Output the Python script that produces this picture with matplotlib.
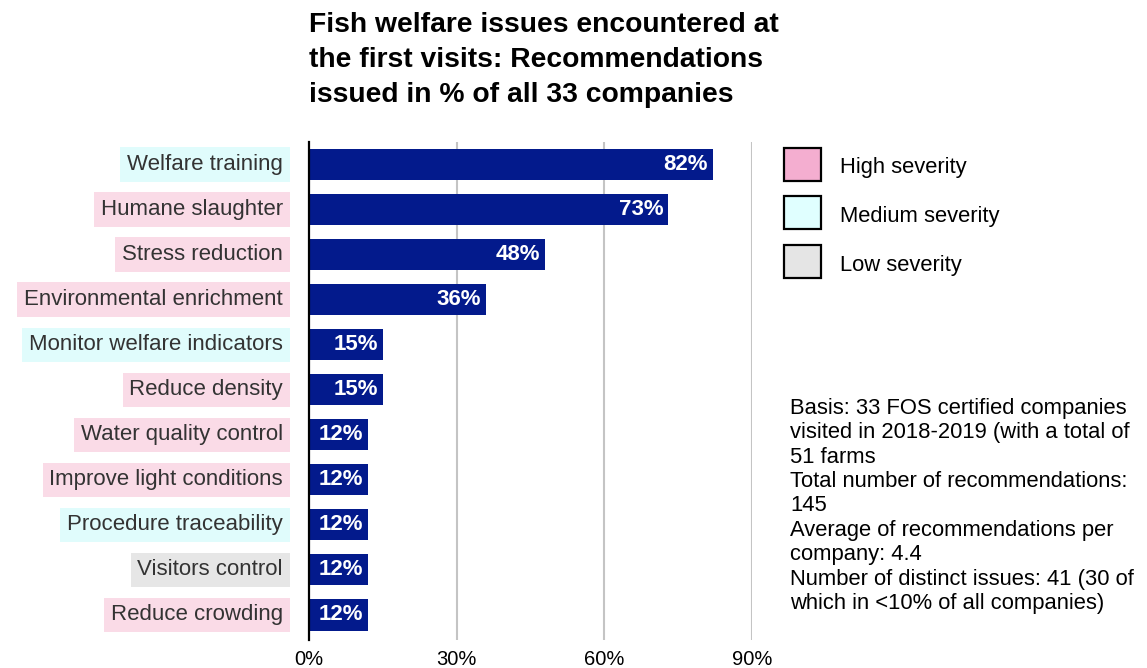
import numpy as np
import matplotlib
matplotlib.use("Agg")
import matplotlib.pyplot as plt
import matplotlib.transforms as mtransforms
from matplotlib.patches import Rectangle

plt.rcParams['font.family'] = ['Liberation Sans', 'DejaVu Sans']

issues = ['Welfare training', 'Humane slaughter', 'Stress reduction',
          'Environmental enrichment', 'Monitor welfare indicators',
          'Reduce density', 'Water quality control', 'Improve light conditions',
          'Procedure traceability', 'Visitors control', 'Reduce crowding']
percent = [82, 73, 48, 36, 15, 15, 12, 12, 12, 12, 12]
severity = ['Medium', 'High', 'High', 'High', 'Medium', 'High', 'High', 'High',
            'Medium', 'Low', 'High']

label_bg = {'High': '#fadbe7', 'Medium': '#e0fcfc', 'Low': '#e6e6e6'}
legend_fill = {'High': '#f4aed0', 'Medium': '#e0ffff', 'Low': '#e5e5e5'}
legend_names = ['High severity', 'Medium severity', 'Low severity']
xticks = [0, 30, 60, 90]

note = ("Basis: 33 FOS certified companies\n"
        "visited in 2018-2019 (with a total of\n"
        "51 farms\n"
        "Total number of recommendations:\n"
        "145\n"
        "Average of recommendations per\n"
        "company: 4.4\n"
        "Number of distinct issues: 41 (30 of\n"
        "which in <10% of all companies)")

bar_color = '#031a8c'

fig = plt.figure(figsize=(11.47, 6.68), dpi=100)
ax = fig.add_axes([309/1147, 1-640/668, 443/1147, 498/668])

y = np.arange(len(issues))
ax.barh(y, percent, height=0.69, color=bar_color, zorder=3)
ax.set_xlim(0, 90)
ax.set_ylim(10.5 + 2.5/45, -0.5)

for x in xticks[1:]:
    ax.axvline(x, color='#c4c4c4', lw=1.5, zorder=1)

for s in ['top', 'right', 'bottom']:
    ax.spines[s].set_visible(False)
ax.spines['left'].set_linewidth(1.6)
ax.spines['left'].set_zorder(5)
ax.set_yticks([])
ax.set_xticks(xticks)
ax.set_xticklabels([f'{v}%' for v in xticks], fontsize=14.5)
ax.tick_params(axis='x', length=0, pad=7.5)

for yi, v in zip(y, percent):
    ax.text(v - 1.0, yi, f'{v}%', ha='right', va='center', color='white',
            fontsize=16, fontweight='bold', zorder=4)

blend = mtransforms.blended_transform_factory(ax.transAxes, ax.transData)
for yi, name, sev in zip(y, issues, severity):
    ax.text(-0.059, yi, name, transform=blend, ha='right', va='center',
            fontsize=16, color='#333333',
            bbox=dict(boxstyle='square,pad=0.3', fc=label_bg[sev], ec='none'))

fig.text(309/1147, 1-12/668,
         'Fish welfare issues encountered at\nthe first visits: Recommendations\nissued in % of all 33 companies',
         ha='left', va='top', fontsize=20.3, fontweight='bold', linespacing=1.46)

for i, (key, name) in enumerate(zip(['High', 'Medium', 'Low'], legend_names)):
    yc = 1 - (165 + i*48.5)/668
    fig.patches.append(Rectangle((784/1147, yc - 16/668), 37/1147, 33/668,
                                 transform=fig.transFigure, fc=legend_fill[key],
                                 ec='black', lw=1.6))
    fig.text(840/1147, yc - 3/668, name, ha='left', va='center', fontsize=15.8)

fig.text(790/1147, 1-398/668, note, ha='left', va='top', fontsize=15.8,
         linespacing=1.21)

fig.savefig('out.png', dpi=100)
